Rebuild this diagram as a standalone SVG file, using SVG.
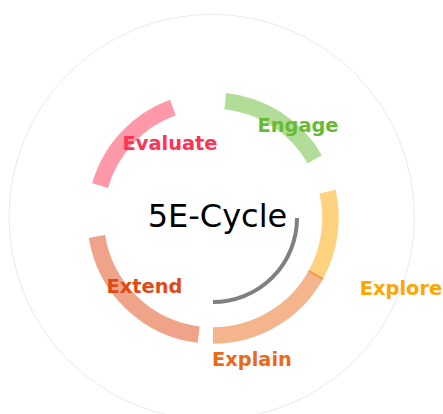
<svg xmlns="http://www.w3.org/2000/svg" width="443" height="414" viewBox="0 0 443 414">
  <style>
    .ring { fill: none; stroke-width: 16.5; stroke-opacity: 0.5; stroke-linecap: butt; }
    .label { font-family: "DejaVu Sans", "Liberation Sans", sans-serif; font-weight: bold; font-size: 19.4px; text-anchor: middle; }
    .title { font-family: "DejaVu Sans", "Liberation Sans", sans-serif; font-size: 32px; text-anchor: middle; fill: #000; }
  </style>
  <rect width="443" height="414" fill="#fff"/>
  <!-- outer boundary -->
  <circle cx="211.7" cy="217" r="202.7" fill="none" stroke="#e4e4e4" stroke-width="0.8"/>

  <g id="connectors">
    <!-- inner return arc -->
    <path d="M297 218 A84 84 0 0 1 213 302" fill="none" stroke="#808080" stroke-width="4"/>
  </g>

  <g id="engage">
    <path class="ring" stroke="#66bb33" d="M225.28 101.14 A117.5 117.5 0 0 1 314.76 159.25"/>
    <text class="label" fill="#66bb33" x="298" y="132">Engage</text>
  </g>
  <g id="explore">
    <path class="ring" stroke="#ffa500" d="M327.49 191.57 A117.5 117.5 0 0 1 315.2 275.9"/>
    <text class="label" fill="#ffa500" x="401" y="295">Explore</text>
  </g>
  <g id="explain">
    <path class="ring" stroke="#ea6a1a" d="M316.3 274.0 A117.5 117.5 0 0 1 213 335.5"/>
    <text class="label" fill="#ea6a1a" x="252" y="366">Explain</text>
  </g>
  <g id="extend">
    <path class="ring" stroke="#e04a14" d="M198.68 334.62 A117.5 117.5 0 0 1 96.95 236.38"/>
    <text class="label" fill="#e04a14" x="144.5" y="293">Extend</text>
  </g>
  <g id="evaluate">
    <path class="ring" stroke="#ff3355" d="M100.05 185.62 A117.5 117.5 0 0 1 172.81 107.59"/>
    <text class="label" fill="#ff3355" x="170" y="150">Evaluate</text>
  </g>

  <text class="title" x="217.5" y="227">5E-Cycle</text>
</svg>
